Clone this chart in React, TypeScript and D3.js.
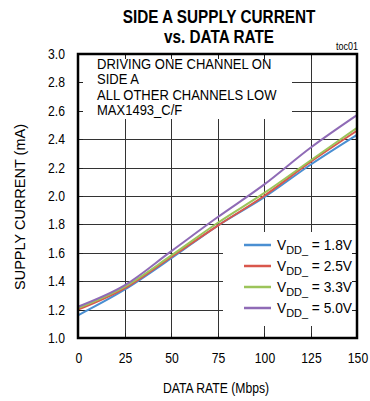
import React, { useEffect, useRef } from 'react';
import * as d3 from 'd3';

const rates = [0, 25, 50, 75, 100, 125, 150];
const seriesNames = ['1.8V', '2.5V', '3.3V', '5.0V'];
const vdd18 = [1.16, 1.34, 1.56, 1.79, 1.99, 2.22, 2.43];
const vdd25 = [1.2, 1.35, 1.57, 1.79, 2.0, 2.24, 2.46];
const vdd33 = [1.21, 1.36, 1.58, 1.81, 2.02, 2.25, 2.48];
const vdd50 = [1.22, 1.37, 1.61, 1.85, 2.08, 2.34, 2.57];
const colors = ['#4a8fd2', '#d9574c', '#9cc45a', '#8f6bb6'];
const xTicks = [0, 25, 50, 75, 100, 125, 150];
const yTicks = [1.0, 1.2, 1.4, 1.6, 1.8, 2.0, 2.2, 2.4, 2.6, 2.8, 3.0];
const noteLines = ['DRIVING ONE CHANNEL ON', 'SIDE A', 'ALL OTHER CHANNELS LOW', 'MAX1493_C/F'];

const FONT = '"Liberation Sans", Arial, sans-serif';

// text squeezed horizontally, the original uses a narrow face
function label(parent: any, x: number, y: number, str: string, size: number, sx: number, anchor = 'start', bold = false) {
    return parent.append('text')
        .attr('transform', `translate(${x},${y}) scale(${sx},1)`)
        .attr('text-anchor', anchor)
        .attr('font-family', FONT)
        .attr('font-size', size)
        .attr('font-weight', bold ? 'bold' : 'normal')
        .text(str);
}

export default function App() {
    const ref = useRef<SVGSVGElement>(null);

    useEffect(() => {
        const svg = d3.select(ref.current);
        svg.selectAll('*').remove();

        const left = 78, right = 357, top = 54, bottom = 338;
        const x = d3.scaleLinear().domain([0, 150]).range([left, right]);
        const y = d3.scaleLinear().domain([1, 3]).range([bottom, top]);

        svg.append('rect').attr('width', 370).attr('height', 401).attr('fill', '#fff');

        // title
        label(svg, 219, 23, 'SIDE A SUPPLY CURRENT', 18, 0.85, 'middle', true);
        label(svg, 219, 43, 'vs. DATA RATE', 18, 0.85, 'middle', true);
        label(svg, 358, 50, 'toc01', 10, 0.9, 'end');

        // grid
        const grid = svg.append('g').attr('stroke', '#333').attr('stroke-width', 1);
        grid.selectAll('.vg').data(xTicks.slice(1, -1)).enter().append('line')
            .attr('x1', d => Math.round(x(d)) + 0.5).attr('x2', d => Math.round(x(d)) + 0.5)
            .attr('y1', top).attr('y2', bottom);
        grid.selectAll('.hg').data(yTicks.slice(1, -1)).enter().append('line')
            .attr('y1', d => Math.round(y(d)) + 0.5).attr('y2', d => Math.round(y(d)) + 0.5)
            .attr('x1', left).attr('x2', right);

        // lines
        const all = [vdd18, vdd25, vdd33, vdd50];
        const line = d3.line<number>().x((d, i) => x(rates[i])).y(d => y(d)).curve(d3.curveMonotoneX);
        all.forEach((s, i) => {
            svg.append('path').attr('d', line(s)).attr('fill', 'none')
                .attr('stroke', colors[i]).attr('stroke-width', 2);
        });

        // note box
        svg.append('rect').attr('x', left + 1).attr('y', top + 1).attr('width', 213).attr('height', 64).attr('fill', '#fff');
        noteLines.forEach((t, i) => {
            label(svg, 97, 68.5 + i * 15.6, t, 14, 0.93);
        });

        // legend
        svg.append('rect').attr('x', 223).attr('y', 232).attr('width', right - 223 - 1).attr('height', 94).attr('fill', '#fff');
        seriesNames.forEach((n, i) => {
            const ly = 245 + i * 21;
            svg.append('line').attr('x1', 244).attr('x2', 271).attr('y1', ly).attr('y2', ly)
                .attr('stroke', colors[i]).attr('stroke-width', 2.5);
            const t = label(svg, 277, ly + 5, '', 14.5, 0.95);
            t.append('tspan').text('V');
            t.append('tspan').attr('font-size', 11.5).attr('dy', 4).text('DD_');
            t.append('tspan').attr('dy', -4).text(' = ' + n);
        });

        // inner ticks at frame
        const ticks = svg.append('g').attr('stroke', '#222').attr('stroke-width', 1);
        ticks.selectAll('.tl').data(yTicks).enter().append('line')
            .attr('y1', d => Math.round(y(d)) + 0.5).attr('y2', d => Math.round(y(d)) + 0.5)
            .attr('x1', left).attr('x2', left + 5);
        ticks.selectAll('.tr').data(yTicks).enter().append('line')
            .attr('y1', d => Math.round(y(d)) + 0.5).attr('y2', d => Math.round(y(d)) + 0.5)
            .attr('x1', right - 5).attr('x2', right);
        ticks.selectAll('.tt').data(xTicks).enter().append('line')
            .attr('x1', d => Math.round(x(d)) + 0.5).attr('x2', d => Math.round(x(d)) + 0.5)
            .attr('y1', top).attr('y2', top + 5);
        ticks.selectAll('.tb').data(xTicks).enter().append('line')
            .attr('x1', d => Math.round(x(d)) + 0.5).attr('x2', d => Math.round(x(d)) + 0.5)
            .attr('y1', bottom - 5).attr('y2', bottom);

        // frame
        svg.append('rect').attr('x', left).attr('y', top).attr('width', right - left).attr('height', bottom - top)
            .attr('fill', 'none').attr('stroke', '#000').attr('stroke-width', 2.5);

        // tick labels
        yTicks.forEach(d => label(svg, 65, y(d) + 5, d.toFixed(1), 14, 0.87, 'end'));
        xTicks.forEach(d => label(svg, x(d) + 1, 363, String(d), 14, 0.87, 'middle'));

        // axis titles
        label(svg, 216, 393, 'DATA  RATE (Mbps)', 14, 0.87, 'middle');
        svg.append('text').attr('transform', 'translate(25,207) rotate(-90)').attr('text-anchor', 'middle')
            .attr('font-family', FONT).attr('font-size', 14.5).text('SUPPLY CURRENT (mA)');
    }, []);

    return (
        <svg ref={ref} width={370} height={401} style={{ position: 'absolute', left: 0, top: 0 }}></svg>
    );
}
